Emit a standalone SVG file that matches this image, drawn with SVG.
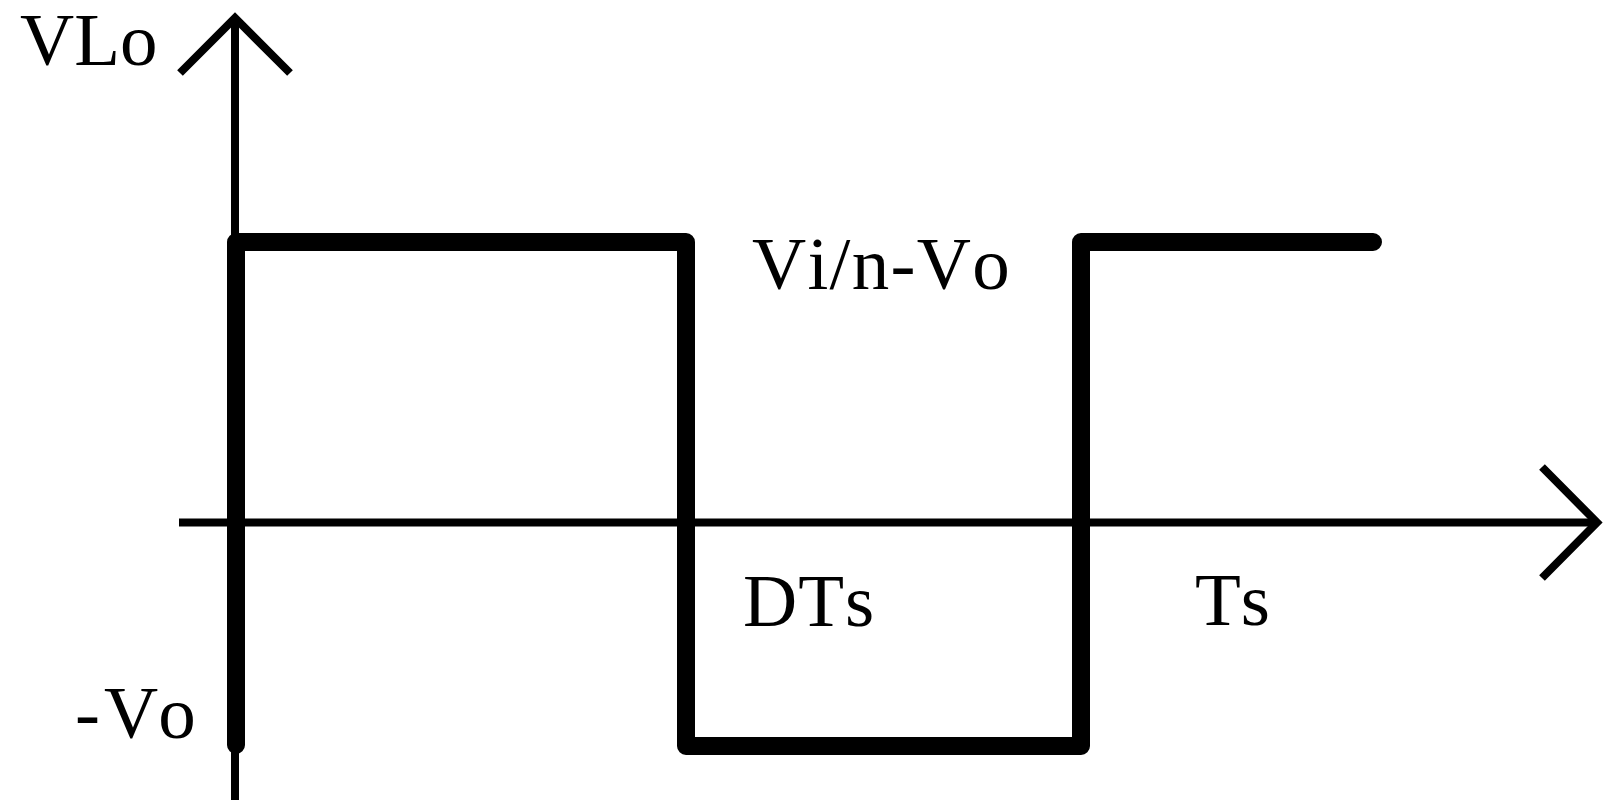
<svg xmlns="http://www.w3.org/2000/svg" width="1608" height="800" viewBox="0 0 1608 800">
<style>
.axis{fill:none;stroke:#000;stroke-width:8;stroke-linecap:butt;stroke-linejoin:miter}
.wave{fill:none;stroke:#000;stroke-width:18;stroke-linecap:round;stroke-linejoin:round}
.lbl{font-family:"Liberation Serif","Times New Roman",serif;font-size:75px;fill:#000;font-kerning:none;font-feature-settings:"kern" 0}
</style>
<rect width="1608" height="800" fill="#fff"/>
<g id="connectors">
<g id="y-axis">
<line class="axis" x1="235" y1="800" x2="235" y2="18"/>
<polyline class="axis" points="180,73 235,18 290,73"/>
</g>
<g id="x-axis">
<line class="axis" x1="179" y1="522.5" x2="1596" y2="522.5"/>
<polyline class="axis" points="1542,467 1597,522.5 1542,578"/>
</g>
</g>
<g id="waveform">
<polyline class="wave" points="236,745 236,242 686,242 686,746 1081,746 1081,242 1373,242"/>
</g>
<g id="labels">
<text class="lbl" x="20" y="65">VLo</text>
<text class="lbl" x="75" y="738">-<tspan dx="4">Vo</tspan></text>
<text class="lbl" x="752" y="289" letter-spacing="1.3">Vi/n-Vo</text>
<text class="lbl" x="743" y="626" letter-spacing="1">DTs</text>
<text class="lbl" x="1195" y="625">Ts</text>
</g>
</svg>
